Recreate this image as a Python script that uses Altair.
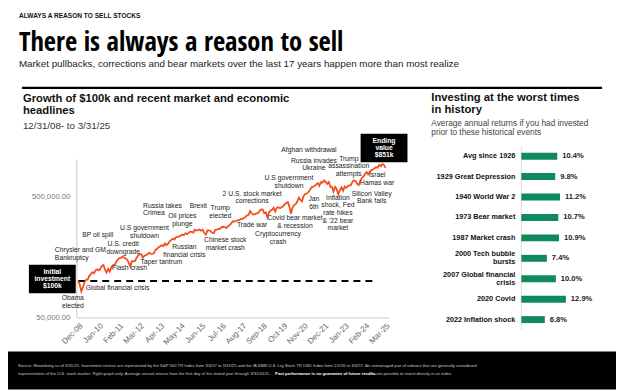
import altair as alt
import pandas as pd

FONT = "Liberation Sans"
COND = "'Open Sans Condensed', 'DejaVu Sans Condensed', 'Liberation Sans', sans-serif"
ORANGE = "#f24f1f"
GREEN = "#108a5c"

# ---------------- data ----------------
# Growth of $100k (in $ thousands), month-ends Dec-2008 .. Mar-2025
growth_k = [
    100.0,
    92.3, 82.2, 89.2, 97.6, 102.8, 102.8, 110.4, 114.1, 118.2, 115.8, 122.5, 124.7,
    122.4, 125.9, 133.3, 135.3, 124.2, 117.5, 125.6, 119.6, 130.1, 134.9, 134.6, 143.4,
    149.4, 154.2, 154.1, 158.5, 156.3, 153.5, 150.2, 141.6, 131.5, 145.6, 144.9, 146.1,
    155.5, 161.8, 166.9, 165.7, 155.3, 161.4, 163.4, 166.7, 170.7, 167.3, 167.8, 169.0,
    181.0, 183.0, 189.6, 193.0, 197.0, 194.0, 203.6, 197.3, 203.1, 212.2, 218.1, 223.3,
    219.6, 229.1, 230.7, 232.1, 237.0, 241.5, 237.9, 246.8, 243.0, 248.6, 254.7, 253.7,
    250.6, 264.3, 259.7, 261.9, 264.7, 259.1, 264.2, 247.7, 241.2, 261.2, 261.3, 256.7,
    248.5, 247.5, 263.9, 264.6, 268.6, 268.9, 278.4, 278.1, 277.8, 272.4, 281.7, 286.8,
    297.6, 308.7, 308.6, 311.4, 315.0, 316.5, 322.6, 322.8, 329.0, 336.3, 345.8, 349.2,
    375.8, 361.2, 351.5, 352.5, 360.1, 361.8, 374.9, 386.2, 387.9, 360.9, 367.4, 333.7,
    366.9, 377.9, 384.6, 399.7, 373.5, 399.2, 404.4, 397.1, 403.9, 412.2, 426.2, 438.4,
    446.4, 408.9, 357.7, 403.1, 421.3, 429.1, 452.7, 484.4, 465.4, 452.6, 501.2, 519.8,
    524.1, 537.8, 560.6, 590.0, 593.2, 606.4, 620.2, 638.2, 607.8, 649.8, 644.4, 672.5,
    649.8, 629.4, 651.9, 594.6, 594.6, 544.7, 594.3, 569.1, 516.0, 557.2, 587.1, 552.5,
    598.0, 582.4, 602.8, 611.7, 613.2, 652.9, 673.2, 661.3, 629.1, 615.2, 670.1, 699.7,
    724.9, 762.4, 786.1, 753.3, 789.5, 816.9, 826.1, 845.0, 862.1, 853.5, 902.4, 879.9,
    913.9, 900.9, 851.0,
]
first_month_end = "2008-12-31"

tick_labels = ["Dec-08", "Jan-10", "Feb-11", "Mar-12", "Apr-13", "May-14", "Jun-15", "Jul-16",
               "Aug-17", "Sep-18", "Oct-19", "Nov-20", "Dec-21", "Jan-23", "Feb-24", "Mar-25"]
y_tick_values = [50000, 500000]

ann_text = [
    "Obama\nelected", "Global financial crisis", "Chrysler and GM\nBankruptcy", "BP oil spill",
    "U.S. credit\ndowngrade", "Flash crash", "U.S government\nshutdown", "Taper tantrum",
    "Russia takes\nCrimea", "Oil prices\nplunge", "Russian\nfinancial crisis", "Brexit",
    "Trump\nelected", "Chinese stock\nmarket crash", "2 U.S. stock market\ncorrections", "Trade war",
    "Cryptocurrency\ncrash", "Covid bear market\n& recession", "U.S government\nshutdown",
    "Afghan withdrawal", "Russia invades\nUkraine", "Jan\n6th",
    "Inflation\nshock, Fed\nrate hikes\n& '22 bear\nmarket", "Trump\nassassination\nattempts",
    "Israel\nHamas war", "Silicon Valley\nBank fails",
]
ann_date = [
    "2008-09-15", "2011-01-28", "2007-10-05", "2010-01-10", "2011-05-17", "2011-09-16",
    "2012-07-01", "2013-05-24", "2012-06-03", "2014-07-02", "2014-08-10", "2015-05-06",
    "2016-07-03", "2016-10-08", "2018-03-10", "2018-03-10", "2019-07-24", "2020-06-16",
    "2020-02-21", "2021-03-13", "2021-06-16", "2021-06-16", "2022-09-22", "2023-04-21",
    "2024-10-20", "2024-07-07",
]
ann_value_k = [76.4, 92.4, 190.2, 251, 211.8, 134.7, 286.6, 151.7, 442, 359.4, 200.2, 442,
               417.9, 228.4, 554.6, 303.3, 255.9, 346, 740.3, 1272, 1034, 495.3, 514.3, 1074,
               783.4, 554.6]
ann_align = ["center", "center", "left", "center", "center", "center", "center", "center",
             "left", "center", "center", "center", "center", "center", "center", "center",
             "center", "center", "center", "center", "center", "center", "center", "center",
             "center", "center"]

baseline_value = 100000
baseline_end = "2024-08-15"

bar_categories = ["Avg since 1926", "1929 Great Depression", "1940 World War 2", "1973 Bear market",
                  "1987 Market crash", "2000 Tech bubble\nbursts", "2007 Global financial\ncrisis",
                  "2020 Covid", "2022 Inflation shock"]
bar_returns = [10.4, 9.8, 11.2, 10.7, 10.9, 7.4, 10.0, 12.9, 6.8]

FOOT1 = ("Source: Bloomberg as of 3/31/25. Investment returns are represented by the S&P 500 TR Index "
         "from 3/4/57 to 3/31/25 and the IA SBBI U.S. Lrg Stock TR USD Index from 1/1/26 to 3/4/57. "
         "An unmanaged pair of indexes that are generally considered")
FOOT2A = ("representative of the U.S. stock market.  Right graph only: Average annual returns from the "
          "first day of the stated year through 3/31/2025.")
FOOT2B = "Past performance is no guarantee of future results."
FOOT2C = "It is not possible to invest directly in an index."

# ---------------- build ----------------
try:
    dates = pd.date_range(first_month_end, periods=len(growth_k), freq="ME")
except ValueError:
    dates = pd.date_range(first_month_end, periods=len(growth_k), freq="M")

tick_vals = []
for lbl in tick_labels:
    t = pd.to_datetime(lbl, format="%b-%y") + pd.offsets.MonthEnd(0)
    tick_vals.append(alt.DateTime(year=int(t.year), month=int(t.month), date=int(t.day)))

one = pd.DataFrame({"k": [0]})


def txt(s, x, y, size, weight="normal", color="#111", font=FONT, align="left", baseline="middle"):
    return alt.Chart(one).mark_text(
        text=s, fontSize=size, fontWeight=weight, color=color, font=font, align=align, baseline=baseline
    ).encode(x=alt.value(x), y=alt.value(y))


# Header
header = alt.layer(
    txt("ALWAYS A REASON TO SELL STOCKS", 11, 7.7, 6.6, "bold", "#111"),
    txt("There is always a reason to sell", 11, 42, 26.6, "bold", "#000", COND, baseline="alphabetic"),
    txt("Market pullbacks, corrections and bear markets over the last 17 years happen more than most realize",
        11, 55.7, 9.85, "normal", "#222"),
    alt.Chart(one).mark_rule(color="black", strokeWidth=2.5).encode(
        x=alt.value(14), x2=alt.value(596), y=alt.value(79.5)),
    txt("Growth of $100k and recent market and economic", 15, 90.3, 11.3, "bold", "#111"),
    txt("headlines", 15, 102.7, 11.3, "bold", "#111"),
    txt("12/31/08- to 3/31/25", 15, 117.3, 9.8, "normal", "#333"),
    txt("Investing at the worst times", 424.7, 89.3, 11.3, "bold", "#111"),
    txt("in history", 424.7, 102, 11.3, "bold", "#111"),
    txt("Average annual returns if you had invested", 424.7, 116, 8.3, "normal", "#444"),
    txt("prior to these historical events", 424.7, 124.7, 8.3, "normal", "#444"),
).properties(width=610, height=120, view=alt.ViewBackground(fill="white"))

# Left spacer of row 2, which also carries the black footer band below the charts
footer_left = alt.layer(
    alt.Chart(one).mark_rect(color="black").encode(
        x=alt.value(0), x2=alt.value(610), y=alt.value(224), y2=alt.value(262)),
    txt(FOOT1, 10, 238.7, 4.2, "normal", "#c8c8c8"),
    txt(FOOT2A, 10, 246.3, 4.2, "normal", "#c8c8c8"),
    txt(FOOT2B, 268, 246.3, 4.2, "bold", "#ffffff"),
    txt(FOOT2C, 362, 246.3, 4.2, "normal", "#c8c8c8"),
).properties(width=69, height=224)

# Line chart
xscale = alt.Scale(domain=[alt.DateTime(year=2008, month=12, date=1),
                           alt.DateTime(year=2025, month=6, date=1)])
yscale = alt.Scale(type="log", domain=[50000, 1804000], nice=False)

xaxis = alt.Axis(values=tick_vals, format="%b-%y", labelAngle=-45, labelFontSize=8, labelColor="#666",
                 ticks=False, domainColor="#dcdcdc", domainWidth=1.5, grid=False, title=None,
                 labelPadding=4, labelOverlap=False)
yaxis = alt.Axis(values=y_tick_values, format=",.2f", domain=False, ticks=False, grid=False,
                 labelFontSize=7.7, labelColor="#777", labelPadding=7, title=None)


def X(f):
    return alt.X(f, scale=xscale, axis=xaxis)


def Y(f):
    return alt.Y(f, scale=yscale, axis=yaxis)


line_df = pd.DataFrame({"date": dates, "value": [v * 1000 for v in growth_k]})
line = alt.Chart(line_df).mark_line(color=ORANGE, strokeWidth=1.8).encode(x=X("date:T"), y=Y("value:Q"))

yline_df = pd.DataFrame({"d": [pd.Timestamp("2008-12-01")], "lo": [50000], "hi": [1000000]})
yline = alt.Chart(yline_df).mark_rule(color="#dcdcdc", strokeWidth=1.5).encode(
    x=X("d:T"), y=Y("lo:Q"), y2="hi:Q")

base_df = pd.DataFrame({"start": [dates[0]], "end": [pd.Timestamp(baseline_end)], "v": [baseline_value]})
base_rule = alt.Chart(base_df).mark_rule(color="black", strokeWidth=2, strokeDash=[7, 5]).encode(
    x=X("start:T"), x2="end:T", y=Y("v:Q"))

ann_df = pd.DataFrame({
    "text": ann_text,
    "date": pd.to_datetime(ann_date),
    "value": [v * 1000 for v in ann_value_k],
    "align": ann_align,
})


def ann_layer(al):
    return alt.Chart(ann_df).transform_filter(f"datum.align == '{al}'").mark_text(
        align=al, baseline="top", fontSize=6.8, lineBreak="\n", lineHeight=7.7, color="#222"
    ).encode(x=X("date:T"), y=Y("value:Q"), text="text:N")


BOX = "M-1,-0.606H1V0.606H-1Z"
start_df = pd.DataFrame({"date": [dates[0]], "value": [growth_k[0] * 1000]})
end_df = pd.DataFrame({"date": [dates[-1]], "value": [growth_k[-1] * 1000]})


def box(df, lines, xo, yo):
    rect = alt.Chart(df).mark_point(shape=BOX, size=2209, filled=True, color="black", opacity=1,
                                    strokeWidth=0, xOffset=xo, yOffset=yo).encode(
        x=X("date:T"), y=Y("value:Q"))
    label = alt.Chart(df).mark_text(text=lines, color="white", fontWeight="bold", fontSize=6.8,
                                    lineHeight=7.5, align="center", baseline="middle",
                                    xOffset=xo, yOffset=yo - 7.5).encode(
        x=X("date:T"), y=Y("value:Q"))
    return [rect, label]


start_box = box(start_df, ["Initial", "investment", f"${growth_k[0]:.0f}k"], -26.1, -2)
end_box = box(end_df, ["Ending", "value", f"${growth_k[-1]:.0f}k"], -1.5, -20)

line_chart = alt.layer(
    yline, base_rule, line, ann_layer("center"), ann_layer("left"), *start_box, *end_box
).properties(width=313, height=190)

# Bar chart
bar_df = pd.DataFrame({"cat": bar_categories, "ret": bar_returns})
yband = alt.Scale(domain=bar_categories, paddingInner=0.66, paddingOuter=0.33, range=[17.75, 202.25])
xbar = alt.Scale(domain=[0, 22.5])


def YB():
    return alt.Y("cat:N", scale=yband, axis=None, sort=None)


ticks = alt.Chart(bar_df).mark_tick(color="#cfcfcf", thickness=1, size=20.5).encode(
    x=alt.XDatum(0, type="quantitative", scale=xbar, axis=None), y=YB())
bars = alt.Chart(bar_df).mark_bar(color=GREEN).encode(
    x=alt.X("ret:Q", scale=xbar, axis=None), y=YB())


def cat_layer(multi, dy):
    flt = "indexof(datum.cat, '\\n') >= 0" if multi else "indexof(datum.cat, '\\n') < 0"
    return alt.Chart(bar_df).transform_filter(flt).mark_text(
        align="right", baseline="middle", dx=-6, dy=dy, fontSize=7.3, fontWeight="bold", color="#111",
        lineBreak="\n", lineHeight=8.4
    ).encode(x=alt.value(0), y=YB(), text="cat:N")


val_labels = alt.Chart(bar_df).transform_calculate(
    lbl="format(datum.ret, '.1f') + '%'"
).mark_text(align="left", baseline="middle", dx=5, fontSize=7.6, fontWeight="bold", color="#222").encode(
    x=alt.X("ret:Q", scale=xbar, axis=None), y=YB(), text="lbl:N")

bar_chart = alt.layer(ticks, bars, cat_layer(False, 0), cat_layer(True, -4.2), val_labels).properties(
    width=78, height=224)

spacer = alt.Chart(one).mark_point(opacity=0).properties(width=133, height=10)
row2 = alt.hconcat(footer_left, line_chart, spacer, bar_chart, spacing=0, bounds="flush")

chart = alt.vconcat(header, row2, spacing=0, bounds="flush").properties(
    padding={"left": 0, "top": 0, "right": 0, "bottom": 8}
).configure(font=FONT).configure_view(strokeWidth=0)

chart.save("out.html", embed_options={"renderer": "svg", "actions": False})
